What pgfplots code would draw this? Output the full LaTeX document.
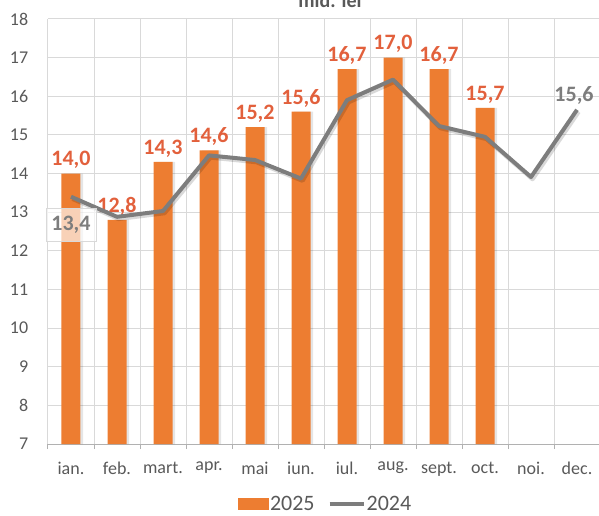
\documentclass[border=0pt]{standalone}
\usepackage{pgfplots}
\pgfplotsset{compat=1.18}
\usepackage{fontspec}
\setmainfont{Carlito}
\definecolor{barc}{RGB}{237,125,49}
\definecolor{lblc}{RGB}{226,96,60}
\definecolor{lnc}{RGB}{125,125,125}
\definecolor{grdc}{RGB}{217,217,217}
\definecolor{txtc}{RGB}{89,89,89}
\begin{document}
\begin{tikzpicture}
\useasboundingbox (-48pt,-71pt) rectangle (551pt,444pt);
\clip (-48pt,-71pt) rectangle (551pt,444pt);
\begin{axis}[
  at={(0pt,0pt)}, anchor=south west,
  scale only axis, width=552pt, height=425pt,
  xmin=-0.5, xmax=11.5, ymin=7, ymax=18,
  ytick={7,...,18},
  xtick={0,...,11},
  xticklabels={ian.,feb.,mart.,apr.,mai,iun.,iul.,aug.,sept.,oct.,noi.,dec.},
  minor xtick={-0.5,0.5,...,11.5},
  xminorgrids, ymajorgrids,
  grid style={grdc, line width=1pt},
  minor grid style={grdc, line width=1pt},
  axis x line*=bottom, axis y line*=left,
  x axis line style={draw=lnc!60, line width=1pt, -},
  y axis line style={draw=none},
  major tick style={draw=none},
  minor tick style={draw=lnc!60, line width=1pt},
  minor tick length=5pt, tick align=outside,
  /pgf/number format/assume math mode=true,
  yticklabel style={font=\fontsize{18}{21}\selectfont, text=txtc, xshift=-12pt},
  xticklabel style={font=\fontsize{18}{21}\selectfont, text=txtc, yshift=-10pt},
  clip mode=individual,
  legend style={at={(0.502,-0.142)}, anchor=center, draw=none, fill=none,
    font=\fontsize{22}{24}\selectfont, text=txtc, legend columns=2,
    /tikz/every even column/.append style={column sep=12pt},
    nodes={inner sep=1pt}},
]
\addplot[forget plot, fill=black, fill opacity=0.10, draw=none, ybar, bar width=19pt, bar shift=2.5pt]
coordinates {(0,14.0) (1,12.8) (2,14.3) (3,14.6) (4,15.2) (5,15.6) (6,16.7) (7,17.0) (8,16.7) (9,15.7)};
\addplot[fill=barc, draw=none, ybar, bar width=19pt,
  nodes near coords,
  /pgf/number format/fixed, /pgf/number format/fixed zerofill, /pgf/number format/precision=1, /pgf/number format/use comma,
  nodes near coords style={font=\bfseries\fontsize{22}{24}\selectfont, text=lblc, inner sep=1pt, yshift=3.5pt},
  legend image code/.code={\fill[barc] (0pt,-6pt) rectangle (31pt,6pt);}]
coordinates {(0,14.0) (1,12.8) (2,14.3) (3,14.6) (4,15.2) (5,15.6) (6,16.7) (7,17.0) (8,16.7) (9,15.7)};
\addlegendentry{2025}
\addplot[forget plot, draw=black, opacity=0.15, line width=4.5pt, line join=round, transform canvas={xshift=1.5pt, yshift=-2pt}]
coordinates {(0,13.4) (1,12.88) (2,13.03) (3,14.47) (4,14.35) (5,13.87) (6,15.9) (7,16.43) (8,15.23) (9,14.95) (10,13.91) (11,15.65)};
\addplot[lnc, line width=4pt, line join=round,
  legend image code/.code={\draw[lnc, line width=4pt] (0pt,0pt) -- (34pt,0pt);}]
coordinates {(0,13.4) (1,12.88) (2,13.03) (3,14.47) (4,14.35) (5,13.87) (6,15.9) (7,16.43) (8,15.23) (9,14.95) (10,13.91) (11,15.65)};
\addlegendentry{2024}
\addplot[forget plot, draw=none, nodes near coords, point meta=explicit symbolic,
  nodes near coords style={anchor=center, font=\bfseries\fontsize{22}{24}\selectfont, text=lnc, fill=white, fill opacity=0.65, text opacity=1, draw=grdc, inner xsep=5.5pt, inner ysep=8pt, xshift=0pt, yshift=-28pt}]
coordinates {(0,13.4) [13,4]};
\addplot[forget plot, draw=none, nodes near coords, point meta=explicit symbolic,
  nodes near coords style={anchor=center, font=\bfseries\fontsize{22}{24}\selectfont, text=lnc, xshift=-3pt, yshift=14pt}]
coordinates {(11,15.65) [15,6]};
\end{axis}
\node[font=\bfseries\fontsize{20}{24}\selectfont, text=txtc, anchor=base] at (282pt,436pt) {mld. lei};
\end{tikzpicture}
\end{document}
